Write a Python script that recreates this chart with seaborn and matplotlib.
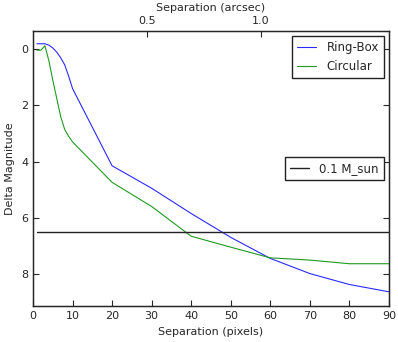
import matplotlib
matplotlib.use("Agg")
import matplotlib.pyplot as plt
import pandas as pd
import seaborn as sns

# separation in pixels and contrast curves (delta magnitude)
sep_px = [1, 2, 3, 4, 5, 6, 7, 8, 9, 10, 20, 30, 40, 50, 60, 70, 80, 90]
ring_box = [-0.2, -0.2, -0.2, -0.15, -0.05, 0.1, 0.3, 0.55, 0.95, 1.4,
            4.15, 4.95, 5.85, 6.7, 7.45, 7.99, 8.38, 8.64]
circular = [0.03, 0.03, -0.13, 0.4, 1.1, 1.75, 2.4, 2.85, 3.1, 3.3,
            4.74, 5.6, 6.66, 7.05, 7.43, 7.51, 7.64, 7.64]
limit_x = [1, 90]
limit_mag = [6.5, 6.5]
arcsec_per_px = 0.01736
arcsec_ticks = [0.5, 1.0]

df = pd.DataFrame({"sep": sep_px * 2,
                   "dmag": ring_box + circular,
                   "method": ["Ring-Box"] * len(sep_px) + ["Circular"] * len(sep_px)})

sns.set_style("ticks", {"xtick.direction": "in", "ytick.direction": "in"})
plt.rcParams["font.family"] = ["DejaVu Sans"]
plt.rcParams["font.size"] = 8

fig = plt.figure(figsize=(3.98, 3.42), dpi=100)
ax = fig.add_axes([0.083, 0.105, 0.894, 0.804])

sns.lineplot(data=df, x="sep", y="dmag", hue="method",
             palette={"Ring-Box": "#2a2aff", "Circular": "#1f9a1f"},
             linewidth=0.8, ax=ax, sort=False)
hline, = ax.plot(limit_x, limit_mag, color="#222222", linewidth=1.0, label="0.1 M_sun")

ax.set_xlim(0, 90)
ax.set_ylim(9.15, -0.65)
ax.set_yticks([0, 2, 4, 6, 8])
ax.set_xlabel("Separation (pixels)", fontsize=8)
ax.set_ylabel("Delta Magnitude", fontsize=8)
ax.tick_params(labelsize=8, right=True, length=4, width=0.8)
for s in ax.spines.values():
    s.set_linewidth(1.0)
    s.set_color("#222222")

legend_kw = dict(fontsize=8.5, fancybox=False, framealpha=1, edgecolor="#222222",
                 handlelength=1.6, handletextpad=0.9, borderaxespad=0.45)
handles, labels = ax.get_legend_handles_labels()
leg1 = ax.legend(handles[:2], labels[:2], loc="upper right", **legend_kw)
ax.add_artist(leg1)
ax.legend([hline], ["0.1 M_sun"], loc="center right", **legend_kw)

ax2 = ax.twiny()
ax2.set_xlim(0, 90 * arcsec_per_px)
ax2.set_xticks(arcsec_ticks)
ax2.set_xlabel("Separation (arcsec)", fontsize=8)
ax2.tick_params(labelsize=8, direction="in", length=4, width=0.8)

fig.savefig("out.png", dpi=100)
